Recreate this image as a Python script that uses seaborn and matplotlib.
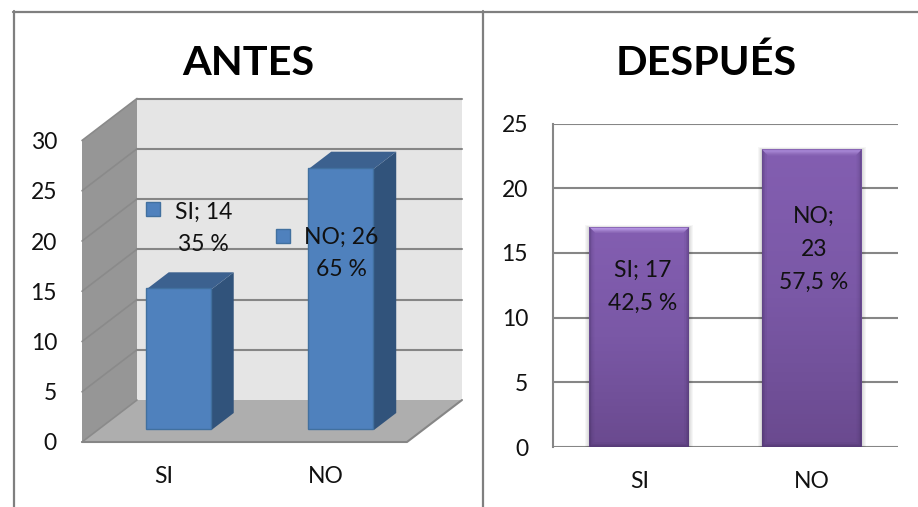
import numpy as np
import matplotlib
matplotlib.use("Agg")
import matplotlib.pyplot as plt
from matplotlib.colors import LinearSegmentedColormap
from matplotlib.lines import Line2D
from matplotlib.patches import Polygon, Rectangle
from matplotlib.transforms import Affine2D, IdentityTransform
import seaborn as sns

categories = ["SI", "NO"]
antes_values = [14, 26]
antes_pct = ["35 %", "65 %"]
despues_values = [17, 23]
despues_labels = ["SI; 17\n42,5 %", "NO;\n23\n57,5 %"]
antes_ticks = [0, 5, 10, 15, 20, 25, 30]
despues_ticks = [0, 5, 10, 15, 20, 25]

W, H = 918, 507
sns.set_theme(style="white")
plt.rcParams["font.family"] = ["Lato", "DejaVu Sans"]
TXT = "#111111"
GRID = "#868686"
FS = 16.5

fig = plt.figure(figsize=(W / 100, H / 100), dpi=100, facecolor="white")


def make_axes(x0, x1, ytop, ybot):
    return fig.add_axes([x0 / W, 1 - ybot / H, (x1 - x0) / W, (ybot - ytop) / H])


# ---------- ANTES (pseudo 3D) ----------
ax = make_axes(82, 407, 140.5, 442)
ax.set_facecolor("none")
sns.barplot(x=categories, y=antes_values, color="#4f81bd", saturation=1, width=0.4,
            edgecolor="#41709f", linewidth=1, ax=ax, zorder=5)
ax.set_xlim(-0.5, 1.5)
ax.set_ylim(0, 30)
ax.set_yticks(antes_ticks)
ax.tick_params(axis="both", length=0, labelsize=FS, labelcolor=TXT)
ax.tick_params(axis="y", pad=18, labelsize=FS)
ax.tick_params(axis="x", pad=17)
for t in ax.get_yticklabels():
    t.set_y(t.get_position()[1])
ax.set_xlabel("")
ax.set_ylabel("")
sns.despine(ax=ax, left=True, bottom=True, right=True, top=True)

DX, DY = 55, 42


def proj(x, v, d):
    px, py = ax.transData.transform((x, v))
    return (px + DX * d, py + DY * d)


def poly(points, color, z=1, edge="none", lw=0):
    ax.add_patch(Polygon(points, closed=True, facecolor=color, edgecolor=edge, linewidth=lw,
                         transform=IdentityTransform(), clip_on=False, zorder=z))


vmax = antes_ticks[-1]
poly([proj(-0.5, 0, 1), proj(1.5, 0, 1), proj(1.5, vmax, 1), proj(-0.5, vmax, 1)], "#e5e5e5", 1)
poly([proj(-0.5, 0, 0), proj(-0.5, 0, 1), proj(-0.5, vmax, 1), proj(-0.5, vmax, 0)], "#969696", 1)
poly([proj(-0.5, 0, 0), proj(1.5, 0, 0), proj(1.5, 0, 1), proj(-0.5, 0, 1)], "#aeaeae", 1)
for t in antes_ticks:
    a, b, c = proj(-0.5, t, 0), proj(-0.5, t, 1), proj(1.5, t, 1)
    ax.add_line(Line2D([a[0], b[0]], [a[1], b[1]], color="#8a8a8a", lw=1.2,
                       transform=IdentityTransform(), clip_on=False, zorder=2))
    if t > 0:
        ax.add_line(Line2D([b[0], c[0]], [b[1], c[1]], color=GRID, lw=1.5,
                           transform=IdentityTransform(), clip_on=False, zorder=2))
fl = [proj(-0.5, 0, 0), proj(1.5, 0, 0), proj(1.5, 0, 1)]
ax.add_line(Line2D([p[0] for p in fl], [p[1] for p in fl], color=GRID, lw=1.5,
                   transform=IdentityTransform(), clip_on=False, zorder=2))

D0, D1 = 12 / 42, 29 / 42
shift = Affine2D().translate(DX * D0 - 0.5, DY * D0 + 1)
for bar in ax.patches:
    if not isinstance(bar, Rectangle):
        continue
    x, w, h = bar.get_x(), bar.get_width(), bar.get_height()
    bar.set_transform(ax.transData + shift)
    bar.set_clip_on(False)
    poly([proj(x + w, 0, D0), proj(x + w, 0, D1), proj(x + w, h, D1), proj(x + w, h, D0)], "#31537b", 4)
    poly([proj(x, h, D0), proj(x + w, h, D0), proj(x + w, h, D1), proj(x, h, D1)], "#3c618f", 4)

label_offsets = [(40, 73), (15.5, -73)]
key_offsets = [(-10.5, 92), (-43, -55.3)]
for i, cat in enumerate(categories):
    ax.annotate(f"{cat}; {antes_values[i]}\n{antes_pct[i]}", xy=(i, antes_values[i]),
                xytext=label_offsets[i], textcoords="offset pixels", ha="center", va="center",
                fontsize=FS, color=TXT, linespacing=1.68, zorder=8, annotation_clip=False)
    ax.plot([i], [antes_values[i]], marker="s", ms=10.5, mfc="#4f81bd", mec="#41709f", mew=1,
            ls="none", clip_on=False, zorder=8,
            transform=ax.transData + Affine2D().translate(*key_offsets[i]))
ax.set_xlim(-0.5, 1.5)
ax.set_ylim(0, 30)

# ---------- DESPUÉS ----------
ax2 = make_axes(553, 898, 123.5, 447)
sns.barplot(x=categories, y=despues_values, color="#7a58a6", saturation=1, width=0.578,
            linewidth=0, ax=ax2, zorder=3)
ax2.set_xlim(-0.5, 1.5)
ax2.set_ylim(0, 25)
ax2.set_yticks(despues_ticks)
ax2.grid(axis="y", color=GRID, lw=1.5)
ax2.set_axisbelow(True)
ax2.tick_params(axis="both", length=0, labelsize=FS, labelcolor=TXT)
ax2.tick_params(axis="y", pad=18)
ax2.tick_params(axis="x", pad=17)
ax2.set_xlabel("")
ax2.set_ylabel("")
sns.despine(ax=ax2, right=True, top=True, bottom=True)
ax2.spines["left"].set_color(GRID)
ax2.spines["left"].set_linewidth(1.5)

cmap = LinearSegmentedColormap.from_list("p", ["#6a4a8f", "#7a58a6", "#835eb1"])
grad = np.linspace(1, 0, 64).reshape(-1, 1)


def trap(p, col, alpha=1.0, z=3.2):
    ax2.add_patch(Polygon(p, closed=True, facecolor=col, edgecolor="none", alpha=alpha,
                          transform=IdentityTransform(), zorder=z, clip_on=False))


for bar, lab in zip(list(ax2.patches), despues_labels):
    x, w, h = bar.get_x(), bar.get_width(), bar.get_height()
    im = ax2.imshow(grad, extent=(x, x + w, 0, h), cmap=cmap, aspect="auto", zorder=3.1)
    im.set_clip_path(bar)
    (lx, by), (rx, ty) = ax2.transData.transform([(x, 0), (x + w, h)])
    for g in (1, 2, 3, 4):
        trap([(lx - g, by), (rx + g, by), (rx + g, ty + g * 0.5), (lx - g, ty + g * 0.5)],
             "#000000", 0.035, 2.9)
    for g, a in ((5, 0.06), (3, 0.10), (1.5, 0.16)):
        trap([(lx, by), (lx + g, by + g), (lx + g, ty - g), (lx, ty)], "#2c1c45", a)
        trap([(rx, by), (rx - g, by + g), (rx - g, ty - g), (rx, ty)], "#2c1c45", a)
        trap([(lx, by), (rx, by), (rx - g, by + g), (lx + g, by + g)], "#2c1c45", a)
    rows = ["#8d6bb8", "#b494e2", "#ab8bd9", "#a07fcc", "#9573c0", "#8c69b8"]
    for k, col in enumerate(rows):
        trap([(lx + k, ty - k), (rx - k, ty - k), (rx - k - 1, ty - k - 1), (lx + k + 1, ty - k - 1)],
             col, 1.0, 3.3)
ax2.set_xlim(-0.5, 1.5)
ax2.set_ylim(0, 25)
label2_offsets = [(3, -60), (2, -100)]
for i, lab in enumerate(despues_labels):
    ax2.annotate(lab, xy=(i, despues_values[i]), xytext=label2_offsets[i],
                 textcoords="offset pixels", ha="center", va="center", fontsize=FS, color=TXT,
                 linespacing=1.68, zorder=8)

# ---------- titles and outer frame ----------
fig.text(248 / W, 1 - 63.5 / H, "ANTES", ha="center", va="center", fontsize=29.8, fontweight="bold", color="#000000")
fig.text(706 / W, 1 - 63.5 / H, "DESPUÉS", ha="center", va="center", fontsize=29.8, fontweight="bold", color="#000000")
for xs, ys in [((13, W), (11.5, 11.5)), ((13.5, 13.5), (11, H)), ((483, 483), (11, H))]:
    fig.add_artist(Line2D([v / W for v in xs], [1 - v / H for v in ys], color="#7f7f7f", lw=1.6))

fig.savefig("out.png", dpi=100, facecolor="white")
